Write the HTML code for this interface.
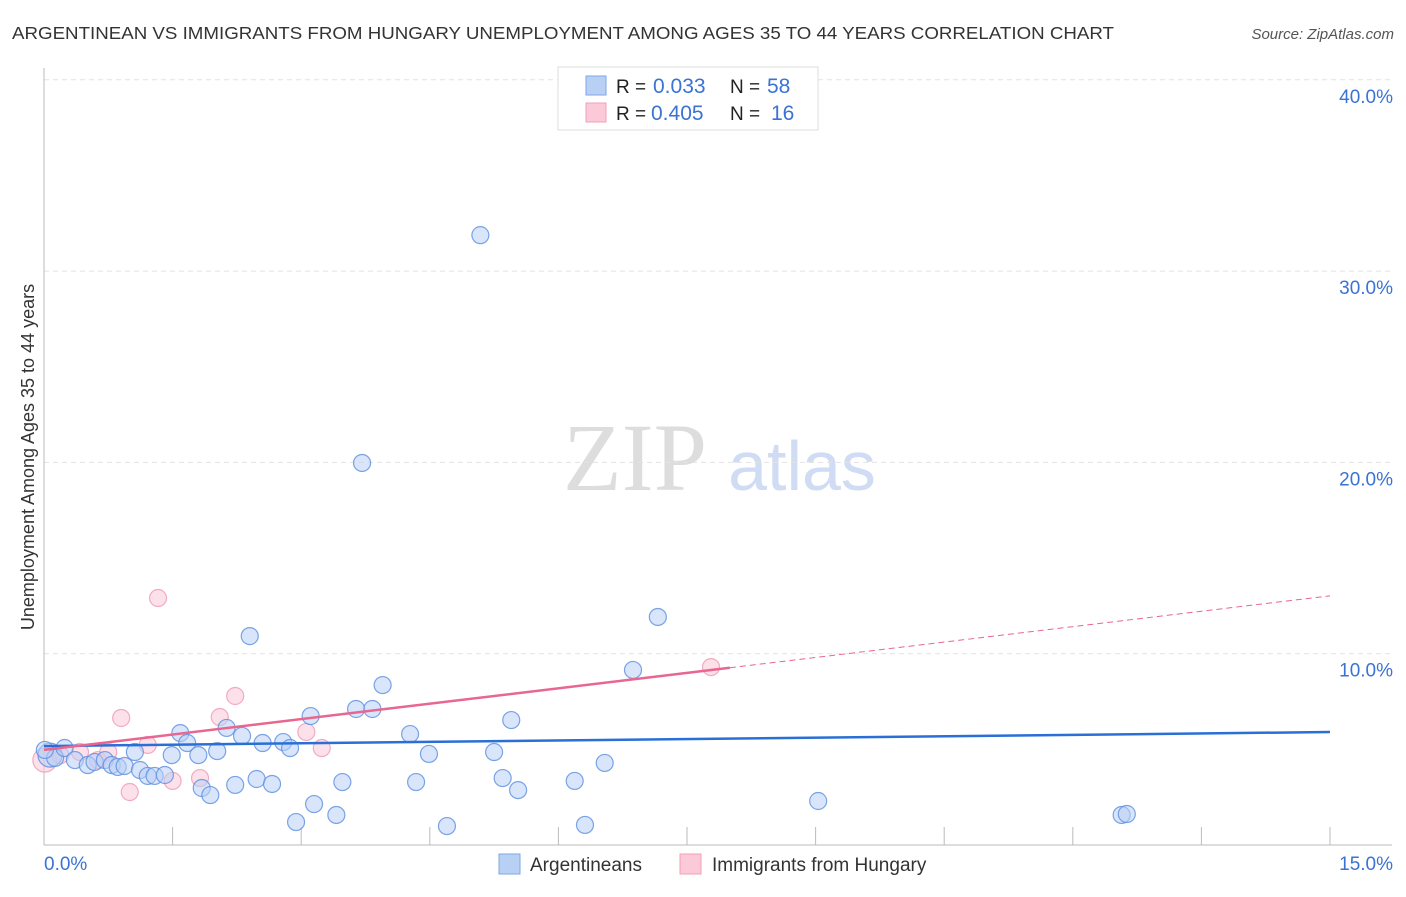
<!DOCTYPE html>
<html><head><meta charset="utf-8"><style>
body{margin:0;background:#fff;font-family:"Liberation Sans",sans-serif;}
svg text{font-family:"Liberation Sans",sans-serif;}
svg text.serif{font-family:"Liberation Serif",serif;}
</style></head><body>
<svg id="c" width="1406" height="892" xmlns="http://www.w3.org/2000/svg">
<text x="12" y="39" font-size="17.5" fill="#333" textLength="1102" lengthAdjust="spacingAndGlyphs">ARGENTINEAN VS IMMIGRANTS FROM HUNGARY UNEMPLOYMENT AMONG AGES 35 TO 44 YEARS CORRELATION CHART</text>
<text x="1394" y="39" font-size="15" fill="#555" font-style="italic" text-anchor="end">Source: ZipAtlas.com</text>
<text x="635" y="490" class="serif" font-size="96" fill="#ddd" text-anchor="middle">ZIP</text>
<text x="802" y="490" font-size="70" fill="#cfdcf3" text-anchor="middle">atlas</text>
<text transform="translate(34,457) rotate(-90)" font-size="18" fill="#333" text-anchor="middle">Unemployment Among Ages 35 to 44 years</text>
<g id="grid"></g><g id="marks"></g>
<g>
<rect x="558" y="67" width="260" height="63" fill="#fff" stroke="#ddd"/>
<rect x="586" y="76" width="20" height="19" fill="#b9d0f5" stroke="#7ea6e6"/>
<rect x="586" y="103" width="20" height="19" fill="#fbc9d8" stroke="#f0a0b8"/>
<text x="616" y="93" font-size="19" fill="#222">R = <tspan x="653" fill="#3a73d3" font-size="21">0.033</tspan><tspan x="730">N = </tspan><tspan x="767" fill="#3a73d3" font-size="21">58</tspan></text>
<text x="616" y="120" font-size="19" fill="#222">R = <tspan x="651" fill="#3a73d3" font-size="21">0.405</tspan><tspan x="730">N = </tspan><tspan x="771" fill="#3a73d3" font-size="21">16</tspan></text>
</g>
<g>
<rect x="499" y="854" width="21" height="20" fill="#b9d0f5" stroke="#7ea6e6"/>
<text x="530" y="871" font-size="19" fill="#333">Argentineans</text>
<rect x="680" y="854" width="21" height="20" fill="#fbc9d8" stroke="#f0a0b8"/>
<text x="712" y="871" font-size="19" fill="#333">Immigrants from Hungary</text>
</g>
</svg>
<script>
const yTicks=[10,20,30,40];
const yTickLabels=["10.0%","20.0%","30.0%","40.0%"];
const xTickLabels=["0.0%","15.0%"];
const blueX=[0.07,0.13,0.24,0.36,0.51,0.59,0.71,0.79,0.86,0.94,1.06,1.12,1.21,1.29,1.41,1.49,1.59,1.67,1.80,1.84,1.94,2.02,2.13,2.23,2.31,2.40,2.48,2.55,2.66,2.79,2.87,2.94,3.11,3.15,3.41,3.48,3.64,3.71,3.83,3.95,4.27,4.34,4.49,4.70,5.09,5.25,5.35,5.45,5.53,6.19,6.31,6.54,6.87,7.16,9.03,12.57,12.63,0.01];
const blueY=[4.70,4.55,5.07,4.44,4.18,4.34,4.44,4.18,4.08,4.13,4.86,3.92,3.61,3.61,3.66,4.70,5.85,5.33,4.70,2.98,2.61,4.91,6.12,3.14,5.70,10.92,3.45,5.33,3.19,5.38,5.07,1.20,6.74,2.14,1.57,3.29,7.11,19.97,7.11,8.36,5.80,3.29,4.76,0.99,31.88,4.86,3.50,6.53,2.87,3.35,1.05,4.29,9.15,11.92,2.30,1.57,1.62,4.97];
const pinkX=[0.01,0.19,0.42,0.63,0.75,0.90,1.00,1.21,1.33,1.50,1.82,2.05,2.23,3.06,3.24,7.78];
const pinkY=[4.44,4.70,4.86,4.44,4.86,6.64,2.77,5.23,12.91,3.35,3.50,6.69,7.79,5.91,5.07,9.30];
const blueTrend=[5.17,0.049];
const pinkTrend=[4.97,0.537];
const pinkSolidEnd=8.0;
const NS="http://www.w3.org/2000/svg";
const X=v=>44+v/15*1286, Y=v=>845-v*19.13;
function mk(t,a,p){const e=document.createElementNS(NS,t);for(const k in a)e.setAttribute(k,a[k]);p.appendChild(e);return e;}
const g=document.getElementById('grid'), m=document.getElementById('marks');
yTicks.forEach((t,i)=>{
 const l=mk('line',{x1:44,x2:1392,y1:Y(t),y2:Y(t),stroke:'#e2e2e2','stroke-dasharray':'5,4'},g);
 
 
 const tx=mk('text',{x:1393,y:Y(t)+23,'font-size':19,fill:'#3a73d3','text-anchor':'end'},g);
 tx.textContent=yTickLabels[i];
 
 
});
const ax=mk('line',{x1:44,x2:44,y1:68,y2:845,stroke:'#bbb'},g);


const bx=mk('line',{x1:44,x2:1392,y1:845,y2:845,stroke:'#bbb'},g);


for(let i=1;i<=10;i++){const t=mk('line',{x1:X(i*1.5),x2:X(i*1.5),y1:827,y2:845,stroke:'#bbb'},g);
 
 }
[[0,'start',44],[15,'end',1393]].forEach((d,i)=>{const t=mk('text',{x:d[2],y:870,'font-size':19,fill:'#3a73d3','text-anchor':d[1]},g);
 t.textContent=xTickLabels[i];
 
 });
function dots(xs,ys,fill,stroke,name){xs.forEach((x,i)=>{const big=i===0&&x<0.2;
 const c=mk('circle',{cx:X(x),cy:Y(ys[i]),r:big?12:8.5,fill:fill,'fill-opacity':0.55,stroke:stroke,'stroke-opacity':0.8,'stroke-width':1.2},m);
 
 });}
dots(pinkX,pinkY,'#fbc9d8','#ee9ab3','hungary-point');
dots(blueX,blueY,'#b9d0f5','#5b8ee0','argentinean-point');
const bl=mk('line',{x1:X(0),y1:Y(blueTrend[0]),x2:X(15),y2:Y(blueTrend[0]+blueTrend[1]*15),stroke:'#2a6fd6','stroke-width':2.5},m);


const pl=mk('line',{x1:X(0),y1:Y(pinkTrend[0]),x2:X(pinkSolidEnd),y2:Y(pinkTrend[0]+pinkTrend[1]*pinkSolidEnd),stroke:'#e8668f','stroke-width':2.5},m);


const pd=mk('line',{x1:X(pinkSolidEnd),y1:Y(pinkTrend[0]+pinkTrend[1]*pinkSolidEnd),x2:X(15),y2:Y(pinkTrend[0]+pinkTrend[1]*15),stroke:'#e8668f','stroke-width':1,'stroke-dasharray':'6,4'},m);


</script>
</body></html>
